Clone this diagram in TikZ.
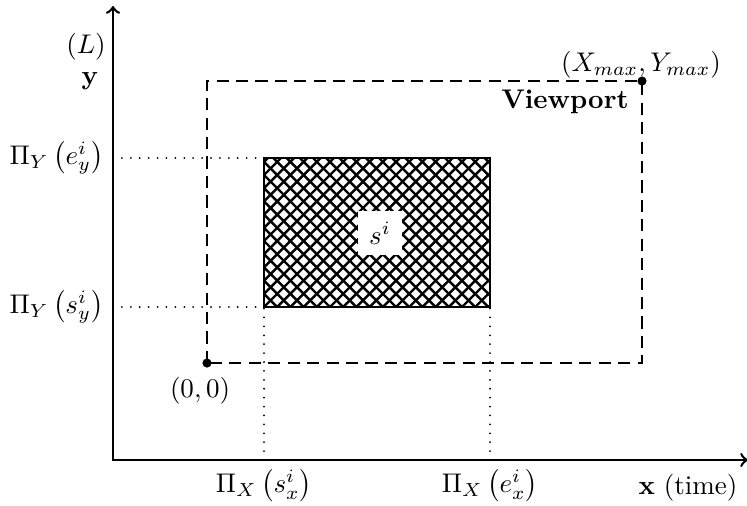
\documentclass[tikz,border=0pt]{standalone}
\usepackage{amsmath}
\begin{document}
\begin{tikzpicture}[x=0.3704pt,y=-0.3704pt,
  axis/.style={line width=0.95pt,<->},
  viewport/.style={line width=0.9pt,dash pattern=on 4.5pt off 2.7pt},
  guide/.style={line width=0.75pt,line cap=round,dash pattern=on 0pt off 3.3pt},
  hatch/.style={line width=0.9pt},
  frame/.style={line width=1pt},
  dotpt/.style={circle,fill=black,inner sep=0pt,minimum size=3.4pt},
  lbl/.style={inner sep=0pt}]
\useasboundingbox (0,0) rectangle (747,505);
% axes
\coordinate (O) at (113,460);
\coordinate (ytop) at (113,6);
\coordinate (xend) at (748,460);
\draw[axis] (ytop) -- (O) -- (xend);
% hatched box corners
\coordinate (sbl) at (264,307);
\coordinate (sbr) at (490,307);
\coordinate (stl) at (264,158);
\coordinate (etr) at (490,158);
% axis feet
\coordinate (ye) at (113,158);
\coordinate (ys) at (113,307);
\coordinate (xs) at (264,460);
\coordinate (xe) at (490,460);
% dotted guides
\draw[guide] (ye) -- (stl);
\draw[guide] (ys) -- (sbl);
\draw[guide] (xs) -- (sbl);
\draw[guide] (xe) -- (sbr);
% hatching
\begin{scope}
  \clip (sbl) rectangle (etr);
  \foreach \k in {-13,...,19} {
    \draw[hatch] (264+\k*13.2,307) -- ++(149,-149);
  }
  \foreach \k in {0,...,30} {
    \draw[hatch] (264+\k*13.2,307) -- ++(-149,-149);
  }
\end{scope}
\draw[frame] (sbl) rectangle (etr);
\node[fill=white,inner sep=4pt] (s) at (380,233) {$s^i$};
% viewport
\node[dotpt] (v0) at (207,363) {};
\node[dotpt] (vmax) at (642,81) {};
\draw[viewport] (v0.center) rectangle (vmax.center);
% labels
\node[lbl] (lL) at (86,47) {$(L)$};
\node[lbl] (ly) at (90,81) {$\mathbf{y}$};
\node[left] (lye) at (ye) {$\Pi_Y\left(e^i_y\right)$};
\node[left] (lys) at (ys) {$\Pi_Y\left(s^i_y\right)$};
\node[below] (lxs) at (xs) {$\Pi_X\left(s^i_x\right)$};
\node[below] (lxe) at (xe) {$\Pi_X\left(e^i_x\right)$};
\node[lbl] (lx) at (688,488) {$\mathbf{x}$ (time)};
\node[lbl] (l00) at (200,391) {$(0,0)$};
\node[lbl] (lmax) at (641,65) {$(X_{max},Y_{max})$};
\node[lbl] (lvp) at (565,102) {\textbf{Viewport}};
\end{tikzpicture}
\end{document}
